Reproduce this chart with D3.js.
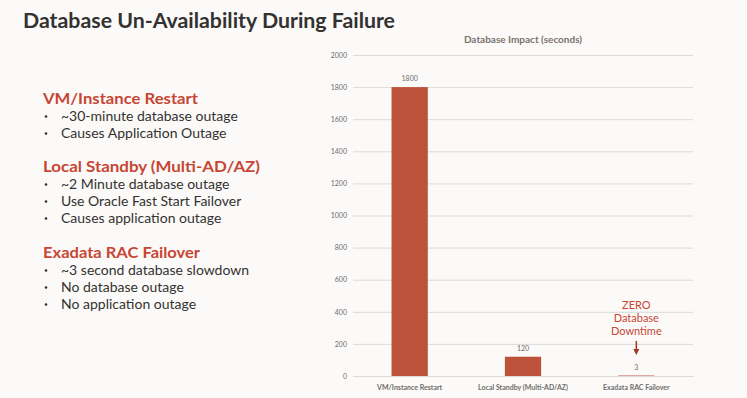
<!DOCTYPE html>
<html>
<head>
<meta charset="utf-8">
<script src="https://cdn.jsdelivr.net/npm/d3@7"></script>
<style>
  html, body { margin: 0; padding: 0; background: #fbfaf8; }
  svg { display: block; }
</style>
</head>
<body>
<div id="chart"></div>
<script>
// chart data
var categories = ["VM/Instance Restart", "Local Standby (Multi-AD/AZ)", "Exadata RAC Failover"];
var values = [1800, 120, 3];
var yTicks = [0, 200, 400, 600, 800, 1000, 1200, 1400, 1600, 1800, 2000];

// slide text
var headings = ["VM/Instance Restart", "Local Standby (Multi-AD/AZ)", "Exadata RAC Failover"];
var bullets = [
  ["~30-minute database outage", "Causes Application Outage"],
  ["~2 Minute database outage", "Use Oracle Fast Start Failover", "Causes application outage"],
  ["~3 second database slowdown", "No database outage", "No application outage"]
];
var callout = ["ZERO", "Database", "Downtime"];

var W = 747, H = 398;
var svg = d3.select("#chart").append("svg")
  .attr("width", W).attr("height", H);

svg.append("rect").attr("width", W).attr("height", H).attr("fill", "#fbfaf8");

// slide title
svg.append("text")
  .attr("x", 23).attr("y", 28)
  .attr("font-family", "Lato, 'Open Sans', sans-serif")
  .attr("font-weight", "bold")
  .attr("font-size", 21)
  .attr("fill", "#333230")
  .attr("textLength", 372)
  .attr("lengthAdjust", "spacingAndGlyphs")
  .text("Database Un-Availability During Failure");

// left text blocks
var headY = [104, 172, 258];
var headW = [155, 217, 157]; // widths of the headings in the slide font
headings.forEach(function(h, i) {
  svg.append("text")
    .attr("x", 43).attr("y", headY[i])
    .attr("font-family", "Lato, 'Open Sans', sans-serif")
    .attr("font-weight", "bold")
    .attr("font-size", 16)
    .attr("fill", "#c74634")
    .attr("textLength", headW[i])
    .attr("lengthAdjust", "spacingAndGlyphs")
    .text(h);
  bullets[i].forEach(function(b, j) {
    var by = headY[i] + 17 * (j + 1) - 0.5;
    svg.append("circle")
      .attr("cx", 46).attr("cy", by - 4).attr("r", 1.3)
      .attr("fill", "#333230");
    svg.append("text")
      .attr("x", 61).attr("y", by)
      .attr("font-family", "Lato, 'Open Sans', sans-serif")
      .attr("font-size", 14)
      .attr("fill", "#333230")
      .text(b);
  });
});

// bar chart
var margin = {left: 353, right: 54, top: 55, bottom: 22};
var x = d3.scaleBand()
  .domain(categories)
  .range([margin.left, W - margin.right])
  .paddingInner(0.68)
  .paddingOuter(0.34);

var y = d3.scaleLinear()
  .domain([0, 2000])
  .range([H - margin.bottom, margin.top]);

svg.append("text")
  .attr("x", (margin.left + W - margin.right) / 2)
  .attr("y", 43)
  .attr("text-anchor", "middle")
  .attr("font-family", "Lato, 'Open Sans', sans-serif")
  .attr("font-weight", "bold")
  .attr("font-size", 10)
  .attr("fill", "#7a7370")
  .text("Database Impact (seconds)");

var yAxis = svg.append("g")
  .attr("transform", "translate(" + margin.left + ",0)")
  .call(d3.axisLeft(y).tickValues(yTicks)
    .tickFormat(d3.format("d"))
    .tickSize(-(W - margin.right - margin.left))
    .tickPadding(6));
yAxis.select(".domain").remove();
yAxis.selectAll(".tick line").attr("stroke", "#dddad7").attr("stroke-width", 1);
yAxis.selectAll(".tick text")
  .attr("font-family", "Lato, 'Open Sans', sans-serif")
  .attr("font-size", 7)
  .attr("fill", "#6f6c6a");

svg.selectAll("rect.bar")
  .data(values)
  .enter()
  .append("rect")
  .attr("class", "bar")
  .attr("x", function(d, i) { return x(categories[i]); })
  .attr("y", function(d) { return y(d); })
  .attr("width", x.bandwidth())
  .attr("height", function(d) { return y(0) - y(d); })
  .attr("fill", "#bd523a");

svg.selectAll("text.val")
  .data(values)
  .enter()
  .append("text")
  .attr("class", "val")
  .attr("x", function(d, i) { return x(categories[i]) + x.bandwidth() / 2; })
  .attr("y", function(d) { return y(d) - 6; })
  .attr("text-anchor", "middle")
  .attr("font-family", "Lato, 'Open Sans', sans-serif")
  .attr("font-size", 7)
  .attr("fill", "#6f6c6a")
  .text(function(d) { return d; });

var xAxis = svg.append("g")
  .attr("transform", "translate(0," + y(0) + ")")
  .call(d3.axisBottom(x).tickSize(0).tickPadding(9));
xAxis.select(".domain").attr("stroke", "#dddad7");
xAxis.selectAll(".tick text")
  .attr("font-family", "Lato, 'Open Sans', sans-serif")
  .attr("font-weight", "bold")
  .attr("font-size", 7)
  .attr("fill", "#6f6c6a");

// callout above the third bar
var cx = x(categories[2]) + x.bandwidth() / 2;
callout.forEach(function(t, i) {
  svg.append("text")
    .attr("x", cx).attr("y", 309 + 13 * i)
    .attr("text-anchor", "middle")
    .attr("font-family", "Lato, 'Open Sans', sans-serif")
    .attr("font-size", 11)
    .attr("fill", "#c74634")
    .text(t);
});
svg.append("line")
  .attr("x1", cx).attr("x2", cx)
  .attr("y1", 341).attr("y2", 350)
  .attr("stroke", "#a23527").attr("stroke-width", 1.5);
svg.append("path")
  .attr("d", "M" + (cx - 3) + ",349 L" + (cx + 3) + ",349 L" + cx + ",355 Z")
  .attr("fill", "#a23527");
</script>
</body>
</html>
